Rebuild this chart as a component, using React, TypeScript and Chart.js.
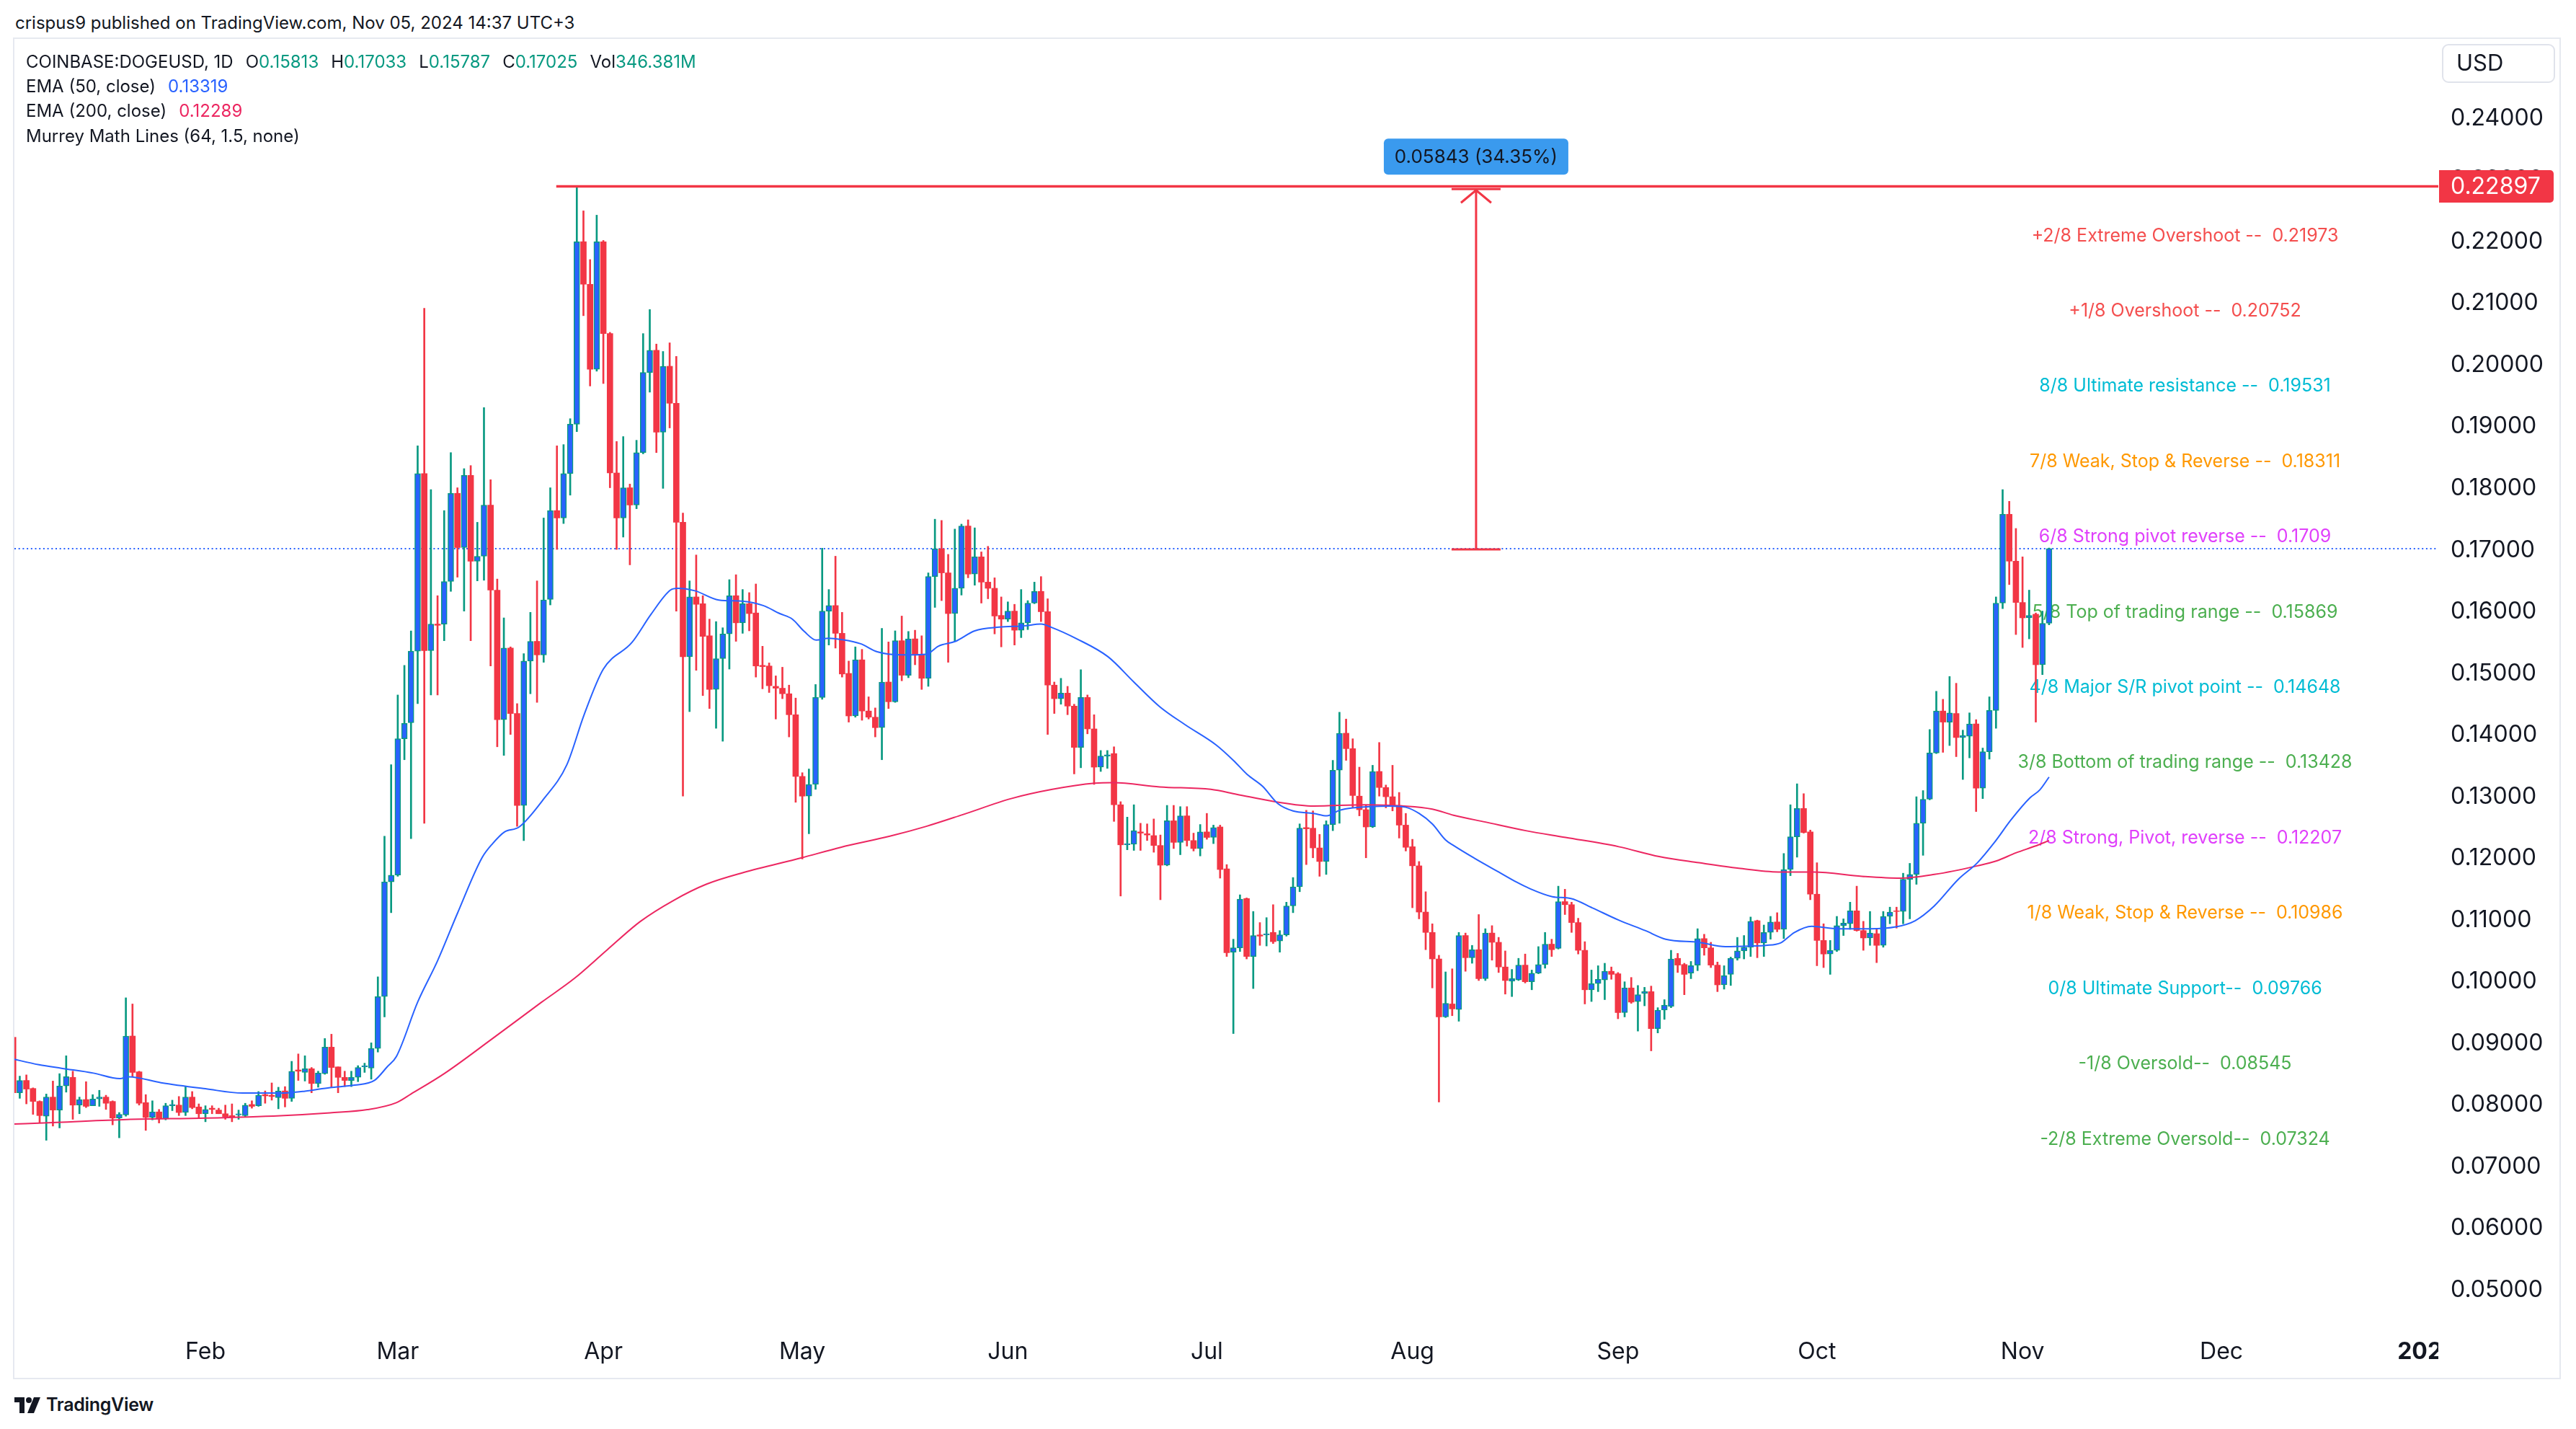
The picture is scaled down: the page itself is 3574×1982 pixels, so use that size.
import React, { useEffect, useRef } from 'react';
import { Chart, registerables } from 'chart.js';

Chart.register(...registerables);

// ---------- DATA (COINBASE:DOGEUSD, 1D) ----------
// day index counted from 2024-01-01 = 0; first visible candle = 2024-01-03
const FIRST_DAY = 2;

const opens = [
  // Jan
  0.0910,0.0820,0.0840,0.0827,0.0806,0.0782,0.0813,0.0792,0.0831,0.0845,
  0.0800,0.0809,0.0799,0.0810,0.0813,0.0806,0.0779,0.0784,0.0912,0.0854,
  0.0804,0.0780,0.0789,0.0778,0.0799,0.0800,0.0788,0.0813,0.0797,
  // Feb
  0.0786,0.0795,0.0792,0.0786,0.0783,0.0784,0.0783,0.0801,0.0799,0.0817,
  0.0816,0.0812,0.0823,0.0811,0.0857,0.0853,0.0859,0.0835,0.0851,0.0894,
  0.0862,0.0845,0.0840,0.0845,0.0862,0.0860,0.0892,0.0976,0.1162,
  // Mar
  0.1173,0.1394,0.1420,0.1536,0.1824,0.1537,0.1580,0.1580,0.1649,0.1792,
  0.1704,0.1821,0.1682,0.1690,0.1773,0.1635,0.1425,0.1541,0.1435,0.1286,
  0.1520,0.1552,0.1530,0.1620,0.1764,0.1752,0.1824,0.1904,0.2200,0.2131,
  0.1993,
  // Apr
  0.2200,0.2051,0.1825,0.1752,0.1801,0.1773,0.1858,0.1988,0.2024,0.1891,
  0.1998,0.1938,0.1745,0.1527,0.1624,0.1613,0.1561,0.1474,0.1524,0.1564,
  0.1626,0.1582,0.1613,0.1598,0.1513,0.1512,0.1479,0.1476,0.1467,0.1433,
  // May
  0.1333,0.1301,0.1320,0.1461,0.1601,0.1610,0.1565,0.1500,0.1431,0.1522,
  0.1439,0.1429,0.1412,0.1486,0.1454,0.1553,0.1497,0.1556,0.1531,0.1492,
  0.1657,0.1702,0.1663,0.1597,0.1638,0.1739,0.1661,0.1689,0.1648,0.1638,
  0.1594,
  // Jun
  0.1588,0.1601,0.1570,0.1582,0.1614,0.1633,0.1600,0.1481,0.1459,0.1468,
  0.1447,0.1380,0.1461,0.1410,0.1348,0.1366,0.1370,0.1287,0.1222,0.1223,
  0.1243,0.1240,0.1237,0.1221,0.1189,0.1261,0.1226,0.1269,0.1229,0.1216,
  // Jul
  0.1243,0.1234,0.1251,0.1183,0.1048,0.1055,0.1135,0.1041,0.1076,0.1076,
  0.1080,0.1066,0.1076,0.1123,0.1154,0.1250,0.1249,0.1217,0.1195,0.1255,
  0.1343,0.1403,0.1378,0.1301,0.1279,0.1251,0.1341,0.1315,0.1300,0.1286,
  0.1254,
  // Aug
  0.1219,0.1188,0.1113,0.1080,0.1037,0.0943,0.0964,0.0955,0.1075,0.1039,
  0.1052,0.1005,0.1079,0.1064,0.1024,0.1001,0.1003,0.1027,0.1000,0.1014,
  0.1028,0.1061,0.1054,0.1130,0.1125,0.1096,0.1051,0.0987,0.0997,0.1003,
  0.1017,
  // Sep
  0.1013,0.0950,0.0990,0.0968,0.0981,0.0984,0.0924,0.0954,0.0960,0.1038,
  0.1028,0.1014,0.1027,0.1070,0.1055,0.1027,0.0995,0.1012,0.1038,0.1050,
  0.1056,0.1099,0.1063,0.1080,0.1097,0.1085,0.1182,0.1235,0.1281,0.1243,
  // Oct
  0.1142,0.1067,0.1045,0.1051,0.1091,0.1094,0.1115,0.1083,0.1071,0.1078,
  0.1059,0.1106,0.1115,0.1114,0.1166,0.1174,0.1257,0.1296,0.1371,0.1439,
  0.1421,0.1435,0.1396,0.1398,0.1418,0.1314,0.1373,0.1440,0.1614,0.1758,
  0.1682,
  // Nov
  0.1615,0.1590,0.1596,0.1514,0.15813,
];

const highs = [
  0.0921,0.0847,0.0849,0.0828,0.0807,0.0818,0.0839,0.0851,0.0880,0.0855,
  0.0813,0.0838,0.0817,0.0824,0.0816,0.0807,0.0788,0.0974,0.0964,0.0855,
  0.0817,0.0807,0.0793,0.0803,0.0808,0.0814,0.0830,0.0822,0.0802,
  0.0799,0.0799,0.0795,0.0800,0.0802,0.0792,0.0803,0.0807,0.0822,0.0823,
  0.0836,0.0829,0.0830,0.0871,0.0883,0.0880,0.0861,0.0855,0.0908,0.0915,
  0.0862,0.0855,0.0855,0.0864,0.0868,0.0901,0.1008,0.1236,0.1352,
  0.1465,0.1513,0.1569,0.1869,0.2092,0.1798,0.1626,0.1764,0.1858,0.1801,
  0.1832,0.1837,0.1745,0.1931,0.1814,0.1653,0.1590,0.1543,0.1451,0.1532,
  0.1599,0.1650,0.1752,0.1801,0.1869,0.1871,0.1913,0.2290,0.2250,0.2171,
  0.2243,
  0.2202,0.2053,0.1876,0.1884,0.1807,0.1878,0.2051,0.2090,0.2034,0.2022,
  0.2036,0.2014,0.1760,0.1650,0.1692,0.1626,0.1588,0.1584,0.1574,0.1652,
  0.1660,0.1636,0.1631,0.1645,0.1544,0.1517,0.1496,0.1510,0.1481,0.1460,
  0.1339,0.1345,0.1482,0.1703,0.1636,0.1690,0.1599,0.1520,0.1543,0.1539,
  0.1462,0.1444,0.1573,0.1551,0.1569,0.1593,0.1568,0.1570,0.1561,0.1663,
  0.1750,0.1748,0.1693,0.1734,0.1742,0.1749,0.1736,0.1697,0.1706,0.1655,
  0.1624,
  0.1616,0.1612,0.1636,0.1618,0.1648,0.1657,0.1621,0.1486,0.1492,0.1479,
  0.1450,0.1506,0.1465,0.1433,0.1375,0.1375,0.1381,0.1292,0.1267,0.1287,
  0.1257,0.1256,0.1264,0.1238,0.1286,0.1286,0.1284,0.1284,0.1241,0.1255,
  0.1273,0.1254,0.1254,0.1190,0.1069,0.1141,0.1136,0.1114,0.1096,0.1104,
  0.1125,0.1083,0.1129,0.1169,0.1256,0.1278,0.1277,0.1239,0.1261,0.1359,
  0.1437,0.1426,0.1394,0.1348,0.1286,0.1351,0.1388,0.1319,0.1351,0.1307,
  0.1273,
  0.1231,0.1195,0.1146,0.1094,0.1043,0.1016,0.1021,0.1080,0.1079,0.1059,
  0.1109,0.1086,0.1091,0.1072,0.1050,0.1020,0.1038,0.1045,0.1019,0.1057,
  0.1080,0.1069,0.1155,0.1150,0.1129,0.1103,0.1065,0.1019,0.1026,0.1030,
  0.1024,
  0.1015,0.1000,0.1007,0.0994,0.0991,0.0993,0.0958,0.0971,0.1051,0.1046,
  0.1030,0.1033,0.1086,0.1077,0.1064,0.1032,0.1026,0.1040,0.1072,0.1075,
  0.1105,0.1100,0.1092,0.1106,0.1112,0.1208,0.1287,0.1321,0.1305,0.1246,
  0.1193,0.1094,0.1067,0.1106,0.1102,0.1129,0.1155,0.1098,0.1114,0.1085,
  0.1114,0.1121,0.1121,0.1176,0.1192,0.1300,0.1310,0.1409,0.1471,0.1458,
  0.1495,0.1484,0.1408,0.1436,0.1425,0.1379,0.1462,0.1624,0.1798,0.1779,
  0.1735,
  0.1689,0.1635,0.1598,0.1601,0.17033,
];

const lows = [
  0.0816,0.0811,0.0802,0.0785,0.0772,0.0743,0.0766,0.0763,0.0821,0.0777,
  0.0786,0.0796,0.0799,0.0798,0.0793,0.0768,0.0747,0.0782,0.0846,0.0800,
  0.0759,0.0776,0.0771,0.0776,0.0791,0.0783,0.0783,0.0794,0.0779,
  0.0773,0.0786,0.0786,0.0777,0.0773,0.0777,0.0781,0.0795,0.0798,0.0803,
  0.0808,0.0794,0.0797,0.0806,0.0840,0.0839,0.0820,0.0829,0.0850,0.0829,
  0.0820,0.0830,0.0830,0.0838,0.0853,0.0842,0.0886,0.0943,0.1112,
  0.1171,0.1360,0.1232,0.1451,0.1257,0.1465,0.1465,0.1553,0.1633,0.1656,
  0.1601,0.1553,0.1650,0.1651,0.1512,0.1381,0.1367,0.1401,0.1252,0.1229,
  0.1467,0.1453,0.1518,0.1611,0.1701,0.1743,0.1789,0.1892,0.2080,0.1966,
  0.1990,
  0.1970,0.1801,0.1701,0.1721,0.1676,0.1767,0.1856,0.1956,0.1858,0.1800,
  0.1898,0.1601,0.1301,0.1438,0.1505,0.1464,0.1443,0.1411,0.1390,0.1507,
  0.1552,0.1565,0.1569,0.1494,0.1475,0.1469,0.1426,0.1459,0.1397,0.1291,
  0.1199,0.1240,0.1312,0.1458,0.1546,0.1541,0.1494,0.1421,0.1429,0.1424,
  0.1426,0.1397,0.1360,0.1443,0.1453,0.1488,0.1493,0.1514,0.1474,0.1479,
  0.1607,0.1618,0.1518,0.1552,0.1627,0.1655,0.1643,0.1614,0.1621,0.1564,
  0.1543,
  0.1584,0.1546,0.1558,0.1571,0.1613,0.1584,0.1401,0.1435,0.1450,0.1433,
  0.1337,0.1347,0.1402,0.1320,0.1341,0.1346,0.1260,0.1139,0.1214,0.1213,
  0.1213,0.1229,0.1210,0.1133,0.1188,0.1216,0.1206,0.1220,0.1212,0.1204,
  0.1231,0.1224,0.1168,0.1041,0.0916,0.1049,0.1037,0.0989,0.1059,0.1058,
  0.1062,0.1048,0.1074,0.1112,0.1146,0.1190,0.1201,0.1171,0.1174,0.1245,
  0.1257,0.1359,0.1282,0.1269,0.1201,0.1250,0.1301,0.1282,0.1277,0.1233,
  0.1212,
  0.1120,0.1102,0.1052,0.0990,0.0805,0.0942,0.0945,0.0936,0.1017,0.1030,
  0.1002,0.1002,0.1035,0.1015,0.0980,0.0976,0.1002,0.0998,0.0987,0.1013,
  0.1022,0.1041,0.1053,0.1109,0.1080,0.1045,0.0964,0.0968,0.0984,0.0971,
  0.1004,
  0.0940,0.0943,0.0965,0.0920,0.0961,0.0888,0.0917,0.0939,0.0958,0.1015,
  0.0979,0.1005,0.1018,0.1043,0.1023,0.0984,0.0988,0.0994,0.1035,0.1037,
  0.1041,0.1039,0.1041,0.1069,0.1081,0.1070,0.1172,0.1202,0.1241,0.1133,
  0.1026,0.1023,0.1012,0.1049,0.1075,0.1085,0.1082,0.1051,0.1059,0.1031,
  0.1056,0.1094,0.1087,0.1094,0.1102,0.1158,0.1205,0.1295,0.1370,0.1372,
  0.1383,0.1365,0.1328,0.1363,0.1276,0.1297,0.1361,0.1411,0.1605,0.1644,
  0.1563,
  0.1542,0.1556,0.1421,0.1498,0.15787,
];

const closes = [
  0.0820,0.0840,0.0826,0.0806,0.0783,0.0813,0.0792,0.0831,0.0846,0.0800,
  0.0809,0.0798,0.0810,0.0813,0.0803,0.0779,0.0785,0.0912,0.0853,0.0803,
  0.0780,0.0789,0.0778,0.0799,0.0801,0.0788,0.0813,0.0796,0.0786,
  0.0793,0.0793,0.0786,0.0781,0.0781,0.0786,0.0800,0.0798,0.0816,0.0815,
  0.0814,0.0823,0.0811,0.0855,0.0855,0.0859,0.0835,0.0852,0.0894,0.0861,
  0.0845,0.0840,0.0845,0.0861,0.0864,0.0892,0.0976,0.1162,0.1173,
  0.1394,0.1419,0.1536,0.1824,0.1537,0.1580,0.1578,0.1649,0.1792,0.1704,
  0.1821,0.1682,0.1690,0.1773,0.1635,0.1425,0.1541,0.1435,0.1286,0.1520,
  0.1552,0.1530,0.1619,0.1764,0.1752,0.1824,0.1904,0.2200,0.2131,0.1993,
  0.2200,
  0.2051,0.1825,0.1752,0.1801,0.1773,0.1858,0.1988,0.2024,0.1891,0.1998,
  0.1938,0.1745,0.1527,0.1624,0.1612,0.1560,0.1474,0.1524,0.1564,0.1626,
  0.1582,0.1613,0.1597,0.1512,0.1511,0.1480,0.1476,0.1467,0.1433,0.1333,
  0.1301,0.1320,0.1461,0.1601,0.1610,0.1565,0.1499,0.1431,0.1522,0.1439,
  0.1429,0.1412,0.1486,0.1454,0.1553,0.1497,0.1556,0.1531,0.1492,0.1657,
  0.1702,0.1663,0.1597,0.1638,0.1739,0.1661,0.1689,0.1648,0.1638,0.1593,
  0.1588,
  0.1601,0.1570,0.1582,0.1614,0.1633,0.1600,0.1481,0.1459,0.1468,0.1447,
  0.1380,0.1461,0.1410,0.1348,0.1366,0.1368,0.1287,0.1222,0.1224,0.1245,
  0.1241,0.1238,0.1221,0.1189,0.1261,0.1226,0.1269,0.1229,0.1216,0.1243,
  0.1234,0.1250,0.1182,0.1047,0.1055,0.1134,0.1041,0.1075,0.1074,0.1078,
  0.1065,0.1076,0.1123,0.1154,0.1249,0.1248,0.1217,0.1195,0.1255,0.1343,
  0.1403,0.1378,0.1302,0.1279,0.1251,0.1341,0.1315,0.1300,0.1284,0.1254,
  0.1218,
  0.1188,0.1113,0.1080,0.1037,0.0943,0.0965,0.0956,0.1075,0.1039,0.1052,
  0.1005,0.1079,0.1064,0.1024,0.1002,0.1005,0.1027,0.1000,0.1014,0.1028,
  0.1061,0.1052,0.1130,0.1125,0.1096,0.1051,0.0987,0.0997,0.1004,0.1017,
  0.1012,
  0.0950,0.0990,0.0967,0.0979,0.0984,0.0924,0.0954,0.0962,0.1037,0.1027,
  0.1012,0.1026,0.1070,0.1055,0.1027,0.0995,0.1010,0.1038,0.1050,0.1056,
  0.1098,0.1063,0.1080,0.1097,0.1085,0.1182,0.1235,0.1281,0.1242,0.1142,
  0.1067,0.1045,0.1051,0.1091,0.1095,0.1115,0.1083,0.1071,0.1079,0.1059,
  0.1106,0.1113,0.1114,0.1166,0.1174,0.1257,0.1296,0.1371,0.1439,0.1421,
  0.1436,0.1396,0.1399,0.1418,0.1314,0.1373,0.1440,0.1614,0.1758,0.1682,
  0.1615,
  0.1590,0.1594,0.1514,0.1581,0.17025,
];

const LAST_VOLUME = '346.381M';

// EMA (50, close)
const ema50Days = [
  1.5,5.9,9.3,14.1,18.1,19.4,24.3,31.0,36.6,42.3,46.0,49.8,53.5,56.5,58.4,59.8,63,66,69,72.7,
  74.3,76.1,78.3,81.9,85.5,88.1,91.0,95.3,98.2,101.1,102.2,104.8,108.4,112.1,115.1,117.6,119.5,121.3,123.1,125,
  126.8,129.8,132.3,136,139.7,141.5,144.1,147,150.7,154.4,157,158.5,162.4,167.1,171,174.9,178.7,183.4,186.1,188.1,
  190.4,192.7,195,198.1,200.1,202,204,209.8,212,214,216,218,219.2,222.4,226,228.8,230.5,234.1,236.9,240.1,
  244.1,248.1,251.2,256.2,260.2,264.2,266.3,268.5,270.6,273.2,277.2,281.9,285.9,288.8,291.7,295.3,298.2,300.7,303.3,306.1,
  307.6,309,
];
const ema50Values = [
  0.0876,0.08655,0.08597,0.08519,0.08429,0.0846,0.08363,0.08265,0.08195,0.08195,0.08226,0.08285,0.08324,0.08402,0.0862,0.0879,0.0967,0.1034,0.1111,0.1201,
  0.1224,0.1243,0.1251,0.1295,0.1352,0.1433,0.1507,0.1550,0.1596,0.1635,0.1638,0.1634,0.1619,0.1617,0.1610,0.1597,0.1588,0.1568,0.1554,0.1557,
  0.1555,0.1548,0.1535,0.1530,0.1531,0.1544,0.1552,0.1569,0.1575,0.1577,0.1580,0.1575,0.1556,0.1527,0.1486,0.1446,0.1417,0.1384,0.1358,0.1336,
  0.1317,0.1289,0.1277,0.1273,0.1269,0.1278,0.1282,0.1285,0.1283,0.1273,0.1256,0.1230,0.1221,0.1200,0.1178,0.1161,0.1152,0.1138,0.1135,0.1120,
  0.1100,0.1083,0.1069,0.1064,0.1057,0.1058,0.1059,0.1063,0.1080,0.1090,0.1086,0.1086,0.1089,0.1099,0.1123,0.1166,0.1193,0.1225,0.1263,0.1298,
  0.1311,0.13319,
];

// EMA (200, close)
const ema200Days = [
  1.5,8.6,19.1,31.1,42.3,49.8,55.4,59.8,62,67,74.3,81.7,86.7,91.6,96.6,101.6,106.5,112.1,120.9,126.8,
  134.2,139.7,145.2,152.5,158.7,165.1,167.9,174.9,182.6,186.5,192.3,198.1,205.9,211.7,216,219.2,224,230.1,236.1,244.1,
  250.2,256.2,262.2,268.2,273.5,280.8,286.6,291.7,298.2,301.1,304,306.9,309,
];
const ema200Values = [
  0.0769,0.0772,0.07767,0.0779,0.07829,0.07876,0.07926,0.0804,0.0818,0.0851,0.0908,0.0967,0.1006,0.1052,0.1098,0.1132,0.1158,0.1177,0.1201,0.1218,
  0.1236,0.1252,0.1271,0.1297,0.1312,0.1322,0.1323,0.1316,0.1312,0.1304,0.1292,0.1285,0.1287,0.1285,0.1280,0.1270,0.1259,0.1245,0.1234,0.1219,
  0.1203,0.1193,0.1184,0.1178,0.1178,0.1171,0.1168,0.1174,0.1188,0.1196,0.1209,0.1220,0.12289,
];

// Murrey Math Lines (64, 1.5, none)
const murreyLevels = [0.21973,0.20752,0.19531,0.18311,0.1709,0.15869,0.14648,0.13428,0.12207,0.10986,0.09766,0.08545,0.07324];
const murreyNames = [
  '+2/8 Extreme Overshoot --  ',
  '+1/8 Overshoot --  ',
  '8/8 Ultimate resistance --  ',
  '7/8 Weak, Stop & Reverse --  ',
  '6/8 Strong pivot reverse --  ',
  '5/8 Top of trading range --  ',
  '4/8 Major S/R pivot point --  ',
  '3/8 Bottom of trading range --  ',
  '2/8 Strong, Pivot, reverse --  ',
  '1/8 Weak, Stop & Reverse --  ',
  '0/8 Ultimate Support--  ',
  '-1/8 Oversold--  ',
  '-2/8 Extreme Oversold--  ',
];
const murreyValueText = ['0.21973','0.20752','0.19531','0.18311','0.1709','0.15869','0.14648','0.13428','0.12207','0.10986','0.09766','0.08545','0.07324'];
const murreyColors = ['#F44E4E','#F44E4E','#00BCD4','#FF9800','#E040FB','#4CAF50','#00BCD4','#4CAF50','#E040FB','#FF9800','#00BCD4','#4CAF50','#4CAF50'];
const MURREY_LABEL_DAY = 329.5;

// axis
const monthTickDays = [31,60,91,121,152,182,213,244,274,305,335,366];
const monthTickLabels = ['Feb','Mar','Apr','May','Jun','Jul','Aug','Sep','Oct','Nov','Dec','2025'];
const monthTickBold = [false,false,false,false,false,false,false,false,false,false,false,true];
const X_MIN = 2.195;
const X_MAX = 367.7;
const Y_MIN = 0.0435;
const Y_MAX = 0.25264;
const Y_STEP = 0.01;

// drawings
const HIGH_LINE = 0.22897;
const HIGH_LINE_START_DAY = 83.9;
const MEASURE_DAY = 222.6;
const MEASURE_FROM = 0.1701;
const MEASURE_TO = 0.22853;
const MEASURE_TEXT = '0.05843 (34.35%)';

// ---------- STYLE ----------
const UP_FILL = '#2962FF';
const UP_EDGE = '#089981';
const DOWN = '#F23645';
const EMA50_COLOR = '#2962FF';
const EMA200_COLOR = '#EC2761';
const TEXT = '#131722';
const FONT = 'Inter, "Noto Sans", sans-serif';

const overlayPlugin = {
  id: 'tvOverlay',
  beforeDatasetsDraw(chart: any) {
    const { ctx, chartArea: a, scales } = chart;
    const x = scales.x, y = scales.y;
    ctx.save();
    ctx.beginPath();
    ctx.rect(a.left, a.top, a.right - a.left, a.bottom - a.top);
    ctx.clip();
    // last price dotted line
    const py = Math.round(y.getPixelForValue(closes[closes.length - 1]));
    ctx.setLineDash([2, 3.7]);
    ctx.lineWidth = 2;
    ctx.strokeStyle = UP_FILL;
    ctx.beginPath();
    ctx.moveTo(a.left, py);
    ctx.lineTo(a.right, py);
    ctx.stroke();
    ctx.setLineDash([]);
    // Murrey labels
    ctx.font = `25px ${FONT}`;
    ctx.textAlign = 'center';
    ctx.textBaseline = 'alphabetic';
    const lx = x.getPixelForValue(MURREY_LABEL_DAY);
    murreyLevels.forEach((lv, i) => {
      ctx.fillStyle = murreyColors[i];
      ctx.fillText(murreyNames[i] + murreyValueText[i], lx, y.getPixelForValue(lv) - 3);
    });
    ctx.restore();
  },
  afterDatasetsDraw(chart: any) {
    const { ctx, chartArea: a, scales } = chart;
    const x = scales.x, y = scales.y;
    ctx.save();
    ctx.beginPath();
    ctx.rect(a.left, a.top, a.right - a.left, a.bottom - a.top);
    ctx.clip();
    // horizontal resistance line
    const hy = y.getPixelForValue(HIGH_LINE);
    ctx.strokeStyle = DOWN;
    ctx.lineWidth = 3.5;
    ctx.beginPath();
    ctx.moveTo(x.getPixelForValue(HIGH_LINE_START_DAY), hy);
    ctx.lineTo(a.right, hy);
    ctx.stroke();
    // price range measure
    const mx = x.getPixelForValue(MEASURE_DAY);
    const y0 = y.getPixelForValue(MEASURE_FROM);
    const y1 = y.getPixelForValue(MEASURE_TO);
    ctx.lineWidth = 3;
    ctx.beginPath();
    ctx.moveTo(mx, y0); ctx.lineTo(mx, y1);
    ctx.moveTo(mx - 34, y0); ctx.lineTo(mx + 34, y0);
    ctx.moveTo(mx - 34, y1); ctx.lineTo(mx + 34, y1);
    ctx.moveTo(mx - 21, y1 + 19); ctx.lineTo(mx, y1 + 1.5); ctx.lineTo(mx + 21, y1 + 19);
    ctx.stroke();
    // label
    const bw = 256, bh = 50;
    const bx = mx - bw / 2, by = y1 - 20 - bh;
    ctx.fillStyle = '#3A9AEE';
    ctx.beginPath();
    (ctx as any).roundRect(bx, by, bw, bh, 6);
    ctx.fill();
    ctx.fillStyle = TEXT;
    ctx.font = `26px ${FONT}`;
    ctx.textAlign = 'center';
    ctx.textBaseline = 'middle';
    ctx.fillText(MEASURE_TEXT, mx, by + bh / 2 + 1);
    ctx.restore();
  },
  afterDraw(chart: any) {
    const { ctx, chartArea: a, scales } = chart;
    const x = scales.x, y = scales.y;
    ctx.save();
    // month labels (clipped to the plot width)
    ctx.beginPath();
    ctx.rect(a.left, a.bottom, a.right - a.left, 80);
    ctx.clip();
    ctx.fillStyle = TEXT;
    ctx.textAlign = 'center';
    ctx.textBaseline = 'middle';
    monthTickDays.forEach((d, i) => {
      ctx.font = `${monthTickBold[i] ? '700 ' : ''}32px ${FONT}`;
      ctx.fillText(monthTickLabels[i], x.getPixelForValue(d), a.bottom + 30);
    });
    ctx.restore();
    ctx.save();
    // price tag of the horizontal line
    const hy = y.getPixelForValue(HIGH_LINE);
    ctx.fillStyle = DOWN;
    ctx.beginPath();
    (ctx as any).roundRect(a.right + 1, hy - 22.5, 159, 45, [0, 5, 5, 0]);
    ctx.fill();
    ctx.fillStyle = '#FFFFFF';
    ctx.font = `32px ${FONT}`;
    ctx.textAlign = 'left';
    ctx.textBaseline = 'middle';
    ctx.fillText(HIGH_LINE.toFixed(5), a.right + 17, hy + 1);
    // currency box
    ctx.strokeStyle = '#E0E3EB';
    ctx.lineWidth = 2;
    ctx.beginPath();
    (ctx as any).roundRect(a.right + 6, 6, 155, 52, 8);
    ctx.stroke();
    ctx.fillStyle = TEXT;
    ctx.font = `31px ${FONT}`;
    ctx.fillText('USD', a.right + 25, 33);
    ctx.restore();
  },
};

function TvLogo() {
  return (
    <svg width="40" height="26" viewBox="0 0 40 26" style={{ position: 'absolute', left: 20, top: 1936 }}>
      <path d="M0 2 H14 V24 H7 V9 H0 Z" fill="#131722" />
      <circle cx="20" cy="6" r="4" fill="#131722" />
      <path d="M27 2 H36 L27 24 H18 Z" fill="#131722" />
    </svg>
  );
}

export default function App() {
  const canvasRef = useRef<HTMLCanvasElement>(null);

  useEffect(() => {
    const canvas = canvasRef.current;
    if (!canvas) return;
    const days = opens.map((_, i) => FIRST_DAY + i);
    const up = opens.map((o, i) => closes[i] >= o);
    const chart = new Chart(canvas, {
      type: 'bar',
      data: {
        datasets: [
          {
            type: 'line',
            label: 'EMA (50, close)',
            data: ema50Days.map((d, i) => ({ x: d, y: ema50Values[i] })),
            borderColor: EMA50_COLOR,
            borderWidth: 2,
            pointRadius: 0,
            cubicInterpolationMode: 'monotone',
            order: 0,
          } as any,
          {
            type: 'line',
            label: 'EMA (200, close)',
            data: ema200Days.map((d, i) => ({ x: d, y: ema200Values[i] })),
            borderColor: EMA200_COLOR,
            borderWidth: 2,
            pointRadius: 0,
            cubicInterpolationMode: 'monotone',
            order: 0,
          } as any,
          {
            type: 'bar',
            label: 'body',
            data: days.map((d, i) => ({ x: d, y: [opens[i], closes[i]] })),
            backgroundColor: up.map((u) => (u ? UP_FILL : DOWN)),
            borderColor: up.map((u) => (u ? UP_EDGE : DOWN)),
            borderWidth: up.map((u) => (u ? 1.5 : 0)),
            borderSkipped: false,
            barThickness: 8,
            grouped: false,
            order: 1,
          } as any,
          {
            type: 'bar',
            label: 'wick',
            data: days.map((d, i) => ({ x: d, y: [lows[i], highs[i]] })),
            backgroundColor: up.map((u) => (u ? UP_EDGE : DOWN)),
            borderWidth: 0,
            barThickness: 2,
            grouped: false,
            order: 2,
          } as any,
        ],
      },
      options: {
        animation: false,
        responsive: false,
        maintainAspectRatio: false,
        devicePixelRatio: 1,
        layout: { padding: 0 },
        plugins: { legend: { display: false }, tooltip: { enabled: false } },
        scales: {
          x: {
            type: 'linear',
            min: X_MIN,
            max: X_MAX,
            offset: false,
            grid: { display: false, drawTicks: false },
            border: { display: false },
            ticks: { display: false },
            afterFit: (s: any) => {
              s.height = 65;
              s.paddingLeft = 0; s.paddingRight = 0;
            },
          },
          y: {
            type: 'linear',
            position: 'right',
            min: Y_MIN,
            max: Y_MAX,
            beginAtZero: false,
            grid: { display: false, drawTicks: false },
            border: { display: false },
            ticks: {
              stepSize: Y_STEP,
              includeBounds: false,
              autoSkip: false,
              padding: 17,
              color: TEXT,
              font: { family: FONT, size: 32 },
              callback: (v: any) => Number(v).toFixed(5),
            },
            afterBuildTicks: (s: any) => {
              s.ticks = s.ticks.filter((t: any) => t.value <= 0.2405);
            },
            afterFit: (s: any) => {
              s.width = 168;
              s.paddingTop = 0; s.paddingBottom = 0;
            },
          },
        },
      } as any,
      plugins: [overlayPlugin],
    });
    return () => chart.destroy();
  }, []);

  const n = closes.length - 1;
  const green = '#089981';
  const gap = { marginLeft: 17 };

  return (
    <div style={{ position: 'fixed', left: 0, top: 0, width: 3574, height: 1982, background: '#FFFFFF', overflow: 'hidden', fontFamily: FONT, color: TEXT }}>
      <div style={{ position: 'absolute', left: 21, top: 17, fontSize: 24, lineHeight: '30px', whiteSpace: 'nowrap' }}>
        crispus9 published on TradingView.com, Nov 05, 2024 14:37 UTC+3
      </div>
      <div style={{ position: 'absolute', left: 18, top: 52, width: 3535, height: 1861, border: '2px solid #E6E9F0', boxSizing: 'border-box' }} />
      <canvas ref={canvasRef} width={3531} height={1854} style={{ position: 'absolute', left: 20, top: 56, width: 3531, height: 1854 }} />
      <div style={{ position: 'absolute', left: 36, top: 69, fontSize: 24, lineHeight: '34.2px', whiteSpace: 'nowrap' }}>
        <div>
          COINBASE:DOGEUSD, 1D
          <span style={gap}>O<span style={{ color: green }}>{opens[n].toFixed(5)}</span></span>
          <span style={gap}>H<span style={{ color: green }}>{highs[n].toFixed(5)}</span></span>
          <span style={gap}>L<span style={{ color: green }}>{lows[n].toFixed(5)}</span></span>
          <span style={gap}>C<span style={{ color: green }}>{closes[n].toFixed(5)}</span></span>
          <span style={gap}>Vol<span style={{ color: green }}>{LAST_VOLUME}</span></span>
        </div>
        <div>EMA (50, close)<span style={{ marginLeft: 17, color: EMA50_COLOR }}>{ema50Values[ema50Values.length - 1].toFixed(5)}</span></div>
        <div>EMA (200, close)<span style={{ marginLeft: 17, color: EMA200_COLOR }}>{ema200Values[ema200Values.length - 1].toFixed(5)}</span></div>
        <div>Murrey Math Lines (64, 1.5, none)</div>
      </div>
      <TvLogo />
      <div style={{ position: 'absolute', left: 64, top: 1933, fontSize: 25, fontWeight: 600, lineHeight: '30px', letterSpacing: -0.3 }}>TradingView</div>
    </div>
  );
}
